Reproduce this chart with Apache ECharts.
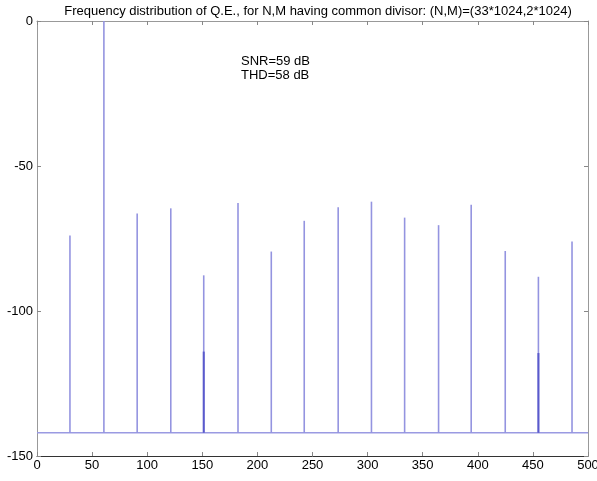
<!DOCTYPE html>
<html>
<head>
<meta charset="utf-8">
<script src="https://cdn.jsdelivr.net/npm/echarts@6/dist/echarts.min.js"></script>
<style>
html,body{margin:0;padding:0;background:#fff;}
#chart{width:597px;height:481px;}
</style>
</head>
<body>
<div id="chart"></div>
<script>
// Data
const titleText = 'Frequency distribution of Q.E., for N,M having common divisor: (N,M)=(33*1024,2*1024)';
const spikeFreqs = [29.9, 60.7, 90.9, 121.4, 151.3, 182.4, 212.6, 242.5, 273.3, 303.5, 333.6, 364.4, 394.0, 424.9, 455.0, 485.5];
const spikeLevels = [-74, 0, -66.4, -64.6, -87.7, -62.8, -79.5, -68.9, -64.2, -62.3, -67.8, -70.4, -63.4, -79.3, -88.2, -76];
const darkFreqs = [151.3, 455.0];
const darkLevels = [-114, -114.5];
const floorLevel = -142;
const floorRange = [0, 500];
const annotations = ['SNR=59 dB', 'THD=58 dB'];

const chart = echarts.init(document.getElementById('chart'));
const fontFamily = '"Liberation Sans", Arial, sans-serif';

function stemRenderer(color, width) {
  return function (params, api) {
    const x = api.value(0), y = api.value(1);
    const p0 = api.coord([x, floorLevel]);
    const p1 = api.coord([x, y]);
    return {
      type: 'line',
      shape: {x1: p0[0], y1: p0[1], x2: p1[0], y2: p1[1]},
      style: {stroke: color, lineWidth: width}
    };
  };
}

const axisCommon = {
  splitLine: {show: false},
  axisTick: {inside: true, length: 4, lineStyle: {color: '#888'}},
  axisLabel: {color: '#000', fontSize: 13, fontFamily: fontFamily}
};

chart.setOption({
  animation: false,
  backgroundColor: '#fff',
  title: {
    text: titleText,
    left: 313, top: 0, textAlign: 'center',
    textStyle: {fontSize: 13, fontWeight: 'normal', color: '#000', fontFamily: fontFamily}
  },
  grid: {left: 37, right: 9, top: 21, bottom: 25, containLabel: false, outerBoundsMode: 'none'},
  xAxis: [
    Object.assign({}, axisCommon, {
      type: 'value', min: 0, max: 500, interval: 50, position: 'bottom',
      axisLine: {onZero: false, lineStyle: {color: '#333'}},
      axisLabel: Object.assign({}, axisCommon.axisLabel, {margin: 3})
    }),
    Object.assign({}, axisCommon, {
      type: 'value', min: 0, max: 500, interval: 50, position: 'top',
      axisLine: {onZero: false, lineStyle: {color: '#999'}},
      axisLabel: {show: false}
    })
  ],
  yAxis: [
    Object.assign({}, axisCommon, {
      type: 'value', min: -150, max: 0, interval: 50, position: 'left',
      axisLine: {show: true, onZero: false, lineStyle: {color: '#999'}},
      axisLabel: Object.assign({}, axisCommon.axisLabel, {margin: 4})
    }),
    Object.assign({}, axisCommon, {
      type: 'value', min: -150, max: 0, interval: 50, position: 'right',
      axisLine: {show: true, onZero: false, lineStyle: {color: '#999'}},
      axisLabel: {show: false}
    })
  ],
  series: [
    {
      type: 'line',
      data: floorRange.map(f => [f, floorLevel]),
      symbol: 'none',
      lineStyle: {color: '#9a9ae2', width: 1.5},
      z: 1
    },
    {
      type: 'custom',
      renderItem: stemRenderer('#9494e0', 1.6),
      data: spikeFreqs.map((f, i) => [f, spikeLevels[i]]),
      z: 2
    },
    {
      type: 'custom',
      renderItem: stemRenderer('#5a5acc', 2),
      data: darkFreqs.map((f, i) => [f, darkLevels[i]]),
      z: 3
    }
  ],
  graphic: [
    {type: 'text', left: 241, top: 55, style: {text: annotations[0], fontSize: 13, fill: '#000', fontFamily: fontFamily}},
    {type: 'text', left: 241, top: 69, style: {text: annotations[1], fontSize: 13, fill: '#000', fontFamily: fontFamily}}
  ]
});
</script>
</body>
</html>
